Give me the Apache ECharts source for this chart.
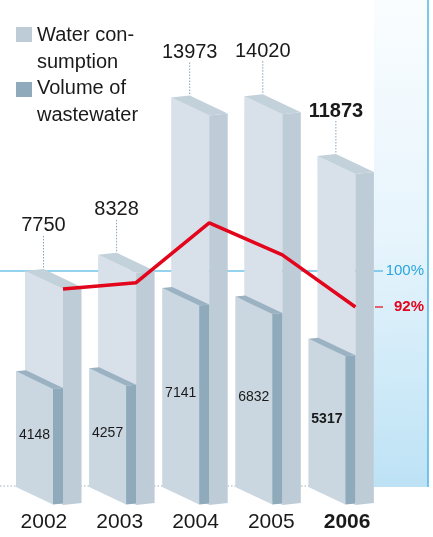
<!DOCTYPE html>
<html><head><meta charset="utf-8">
<script src="https://cdn.jsdelivr.net/npm/echarts@6/dist/echarts.min.js"></script>
<style>html,body{margin:0;padding:0;background:#fff}#c{width:433px;height:537px}</style>
</head><body><div id="c"></div>
<script>
// ---- data ----
const years = ['2002', '2003', '2004', '2005', '2006'];
const waterConsumption = [7750, 8328, 13973, 14020, 11873];
const wastewaterVolume = [4148, 4257, 7141, 6832, 5317];
const ratioPct = [96, 97.4, 110.7, 103.6, 92];
const referencePct = 100;
const legendNames = ['Water con-\nsumption', 'Volume of\nwastewater'];
const highlightIndex = 4;

// ---- style ----
const FONT = "'Liberation Sans', Arial, Helvetica, sans-serif";
const C = {
  waterFront: '#d8e1e9', waterSide: '#bdccd7', waterTop: '#c3d1db',
  wasteFront: '#cad7e0', wasteSide: '#8eaabb', wasteTop: '#9bb2c2',
  text: '#1a1a1a', blue: '#2aa5de', red: '#e3051b', leader: '#85a3b8'
};
const SLOPE = 0.474;       // front face top edge drop per px
const W_HALF = 0.26;       // water front half-width (fraction of band)
const W_DEPTH = 0.253;     // water depth dx (fraction of band)
const V_LEFT = 0.383;      // wastewater front-left offset from center
const V_W = 0.506;         // wastewater front width
const V_DEPTH = 0.137;     // wastewater depth dx

function poly(points, fill) {
  return { type: 'polygon', shape: { points: points }, style: { fill: fill, stroke: null } };
}

function renderBars(params, api) {
  const i = api.value(0);
  const water = api.value(1), waste = api.value(2);
  const bw = api.size([1, 0])[0];
  const base = api.coord([i, 0]);
  const cx = base[0], y0 = base[1];
  const yW = api.coord([i, water])[1];
  const yV = api.coord([i, waste])[1];
  const bold = i === highlightIndex;
  const ch = [];
  // water consumption prism
  const xl = cx - bw * W_HALF, xr = cx + bw * W_HALF;
  const dx = bw * W_DEPTH, dy = -2;
  const drop = (xr - xl) * SLOPE;
  ch.push(poly([[xl, yW], [xr, yW + drop], [xr, y0 + drop], [xl, y0]], C.waterFront));
  ch.push(poly([[xr, yW + drop], [xr + dx, yW + drop + dy], [xr + dx, y0 + drop + dy], [xr, y0 + drop]], C.waterSide));
  ch.push(poly([[xl, yW], [xl + dx, yW + dy], [xr + dx, yW + drop + dy], [xr, yW + drop]], C.waterTop));
  const bx = xl + dx;
  ch.push({ type: 'line', shape: { x1: bx, y1: yW - 35, x2: bx, y2: yW + dy - 1 },
    style: { stroke: C.leader, lineWidth: 1, lineDash: [1.5, 1.5] } });
  ch.push({ type: 'text', style: { x: bx, y: yW - 45, text: String(water), align: 'center', verticalAlign: 'middle',
    fill: C.text, font: (bold ? 'bold ' : '') + '20px ' + FONT } });
  // wastewater prism
  const vl = cx - bw * V_LEFT, vr = vl + bw * V_W;
  const vdx = bw * V_DEPTH, vdy = -1;
  const vdrop = (vr - vl) * SLOPE;
  ch.push(poly([[vl, yV], [vr, yV + vdrop], [vr, y0 + vdrop], [vl, y0]], C.wasteFront));
  ch.push(poly([[vr, yV + vdrop], [vr + vdx, yV + vdrop + vdy], [vr + vdx, y0 + vdrop + vdy], [vr, y0 + vdrop]], C.wasteSide));
  ch.push(poly([[vl, yV], [vl + vdx, yV + vdy], [vr + vdx, yV + vdrop + vdy], [vr, yV + vdrop]], C.wasteTop));
  ch.push({ type: 'text', style: { x: (vl + vr) / 2, y: (yV + y0) / 2 + vdrop / 2 - 3, text: String(waste),
    align: 'center', verticalAlign: 'middle', fill: C.text, font: (bold ? 'bold ' : '') + '14px ' + FONT } });
  return { type: 'group', children: ch };
}

function renderBaseline(params, api) {
  const y = api.coord([0, 0])[1] - 1;
  return { type: 'line', shape: { x1: 0, y1: y, x2: 374, y2: y },
    style: { stroke: '#9fb0bc', lineWidth: 1, lineDash: [1.5, 2] } };
}

function renderRefs(params, api) {
  const kind = api.value(0);
  const y = api.coord([0, api.value(1)])[1];
  if (kind === 0) {
    return { type: 'group', children: [
      { type: 'line', shape: { x1: 0, y1: y, x2: 383, y2: y }, style: { stroke: C.blue, lineWidth: 1.2 } },
      { type: 'text', style: { x: 424, y: y, text: api.value(1) + '%', align: 'right', verticalAlign: 'middle',
        fill: C.blue, font: '15px ' + FONT } }
    ] };
  }
  return { type: 'group', children: [
    { type: 'line', shape: { x1: 375, y1: y, x2: 383, y2: y }, style: { stroke: C.red, lineWidth: 1.2 } },
    { type: 'text', style: { x: 424, y: y, text: api.value(1) + '%', align: 'right', verticalAlign: 'middle',
      fill: C.red, font: 'bold 15px ' + FONT } }
  ] };
}

const chart = echarts.init(document.getElementById('c'), null, { renderer: 'canvas' });
const lineOffset = W_HALF;
const option = {
  animation: false,
  backgroundColor: '#fff',
  grid: [
    { left: 7.45, right: 60.05, top: 41, bottom: 50 },
    { left: 6, width: 379, bottom: 50, height: 10 }
  ],
  xAxis: [
    { type: 'category', gridIndex: 0, data: years, show: false },
    { type: 'value', gridIndex: 0, min: -0.5, max: 4.5, show: false },
    { type: 'category', gridIndex: 1, data: years,
      axisLine: { show: false }, axisTick: { show: false },
      axisLabel: { interval: 0, hideOverlap: false, margin: 25, fontSize: 21, color: C.text, fontFamily: FONT,
        formatter: function (v, idx) { return idx === highlightIndex ? '{b|' + v + '}' : v; },
        rich: { b: { fontWeight: 'bold', fontSize: 21, color: C.text, fontFamily: FONT } } } }
  ],
  yAxis: [
    { type: 'value', gridIndex: 0, min: 0, max: 16000, show: false },
    { type: 'value', gridIndex: 0, min: 52, max: 52 + 446 / 4.5, show: false },
    { type: 'value', gridIndex: 1, show: false }
  ],
  graphic: [
    { type: 'rect', z: 0, shape: { x: 374, y: 0, width: 54, height: 487 },
      style: { fill: new echarts.graphic.LinearGradient(0, 0, 0.4, 1, [
        { offset: 0, color: '#fafdff' }, { offset: 0.5, color: '#e6f4fc' }, { offset: 1, color: '#bde2f5' }]) } },
    { type: 'line', z: 0, shape: { x1: 428, y1: 0, x2: 428, y2: 487 }, style: { stroke: '#4fb6e7', lineWidth: 1.5 } },
    { type: 'rect', z: 10, shape: { x: 16, y: 27, width: 16, height: 15 }, style: { fill: C.waterSide } },
    { type: 'text', z: 10, style: { text: legendNames[0], lineHeight: 27,
      fill: C.text, font: '20px ' + FONT }, top: 22, left: 37 },
    { type: 'rect', z: 10, shape: { x: 16, y: 82, width: 16, height: 15 }, style: { fill: C.wasteSide } },
    { type: 'text', z: 10, style: { text: legendNames[1], lineHeight: 27,
      fill: C.text, font: '20px ' + FONT }, top: 75, left: 37 }
  ],
  series: [
    { type: 'custom', name: 'baseline', xAxisIndex: 0, yAxisIndex: 0, z: 1, silent: true,
      renderItem: renderBaseline, data: [[0, 0]] },
    { type: 'custom', name: 'reference', xAxisIndex: 0, yAxisIndex: 1, z: 1, silent: true,
      renderItem: renderRefs, data: [[0, referencePct], [1, ratioPct[ratioPct.length - 1]]] },
    { type: 'custom', name: 'bars', xAxisIndex: 0, yAxisIndex: 0, z: 3,
      renderItem: renderBars,
      encode: { x: 0, y: [1, 2] },
      data: years.map(function (y, i) { return [i, waterConsumption[i], wastewaterVolume[i]]; }) },
    { type: 'line', name: 'ratio', xAxisIndex: 1, yAxisIndex: 1, z: 5, symbol: 'none',
      lineStyle: { color: C.red, width: 3.5 },
      data: ratioPct.map(function (p, i) { return [i + lineOffset, p]; }) },
    { type: 'line', xAxisIndex: 2, yAxisIndex: 2, data: [], silent: true }
  ]
};
chart.setOption(option);
</script>
</body></html>
